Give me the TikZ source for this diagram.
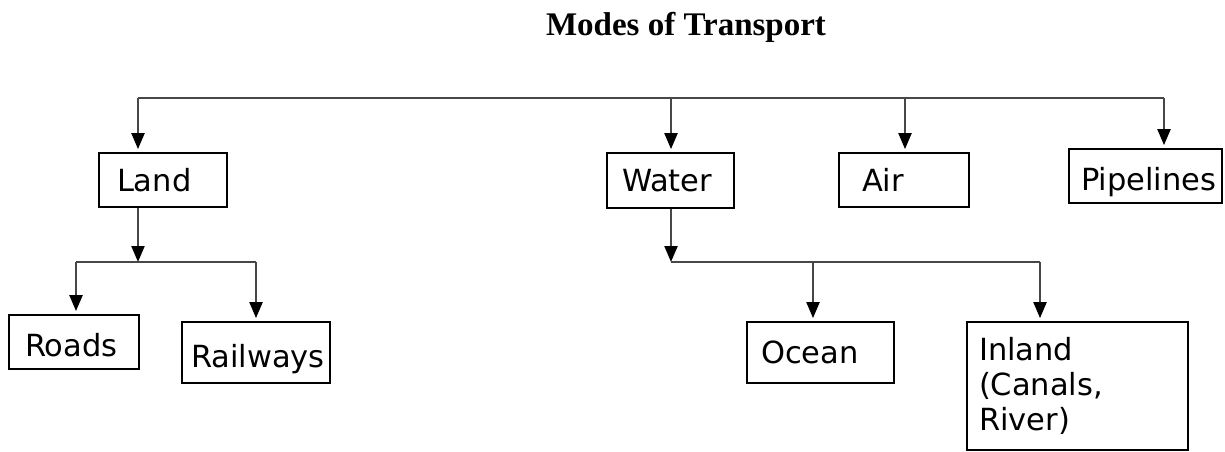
\documentclass[tikz,border=0pt]{standalone}
\usepackage{fontspec}
\usetikzlibrary{arrows.meta}
\newfontfamily\boxfont{DejaVu Sans}
\newfontfamily\titlefont{Liberation Serif}
\begin{document}
\begin{tikzpicture}[x=1pt,y=-1pt,
  box/.style={draw=black, line width=1.8pt, align=left, inner ysep=0pt,
    font=\boxfont\fontsize{30.5}{35}\selectfont},
  conn/.style={draw=black!72, line width=2.2pt},
  arr/.style={conn, -{Triangle[width=13pt,length=16pt,color=black]}},
  arrb/.style={arr, shorten >=3pt}]
\useasboundingbox (0,0) rectangle (1225,451);

\node[font=\titlefont\bfseries\fontsize{33}{38}\selectfont, anchor=base] (title) at (686,35) {Modes of Transport};

% level 1 boxes
\node[box, minimum height=54pt, inner xsep=18pt, text width=92pt] (land) at (163,180) {Land};
\node[box, minimum height=55pt, inner xsep=15pt, text width=97pt] (water) at (670.5,180.5) {Water};
\node[box, minimum height=54pt, inner xsep=23pt, text width=84pt] (air) at (904,180) {Air};
\node[box, minimum height=54pt, inner xsep=12pt, text width=129pt, text height=39pt, text depth=11pt] (pipe) at (1145.5,176) {Pipelines};

% level 2 boxes
\node[box, minimum height=54pt, inner xsep=16pt, text width=98pt, text height=39pt, text depth=11pt] (roads) at (74,342) {Roads};
\node[box, minimum height=61pt, inner xsep=9pt, text width=130pt, text height=39.5pt, text depth=10.5pt] (rail) at (256,352.5) {Railways};
\node[box, minimum height=61pt, inner xsep=14pt, text width=119pt, text height=35.5pt, text depth=14.5pt] (ocean) at (820.5,352.5) {Ocean};
\node[box, minimum height=128pt, inner xsep=12pt, text width=197pt] (inland) at (1077.5,386) {Inland\\(Canals,\\River)};

% top bus
\coordinate (tL) at (138,98);
\coordinate (tW) at (671,98);
\coordinate (tA) at (905,98);
\coordinate (tP) at (1164,98);
\draw[conn] (tL) -- (tP);
\draw[arrb] (tL) -- (tL |- land.north);
\draw[arrb] (tW) -- (tW |- water.north);
\draw[arrb] (tA) -- (tA |- air.north);
\draw[arrb] (tP) -- (tP |- pipe.north);

% land branch
\coordinate (lj) at (138,262);
\coordinate (lR) at (76,262);
\coordinate (lW) at (256,262);
\draw[arr] (lj |- land.south) -- (lj);
\draw[conn] (lR) -- (lW);
\draw[arrb] (lR) -- (lR |- roads.north);
\draw[arrb] (lW) -- (lW |- rail.north);

% water branch
\coordinate (wj) at (671,262);
\coordinate (wO) at (813,262);
\coordinate (wI) at (1040,262);
\draw[arr] (wj |- water.south) -- (wj);
\draw[conn] (wj) -- (wI);
\draw[arrb] (wO) -- (wO |- ocean.north);
\draw[arrb] (wI) -- (wI |- inland.north);
\end{tikzpicture}
\end{document}
